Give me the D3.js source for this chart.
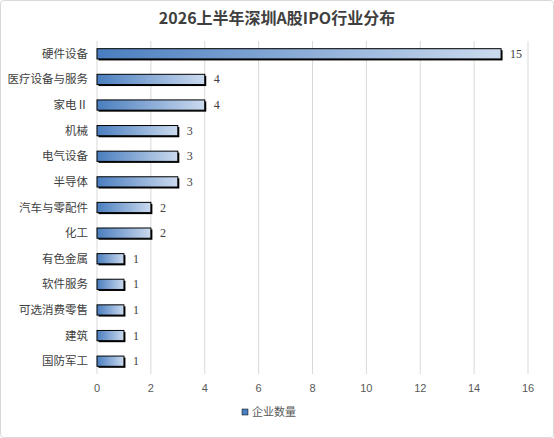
<!DOCTYPE html>
<html><head><meta charset="utf-8">
<script src="https://cdn.jsdelivr.net/npm/d3@7"></script>
<style>body{margin:0;background:#fff}</style>
</head><body>
<svg id="c" width="554" height="438"></svg>
<script>
const industries = ["硬件设备","医疗设备与服务","家电Ⅱ","机械","电气设备","半导体","汽车与零配件","化工","有色金属","软件服务","可选消费零售","建筑","国防军工"];
const counts = [15,4,4,3,3,3,2,2,1,1,1,1,1];
const ticks = [0,2,4,6,8,10,12,14,16];

const svg = d3.select("#c");
const W = 554, H = 438;
svg.append("rect").attr("x",0.5).attr("y",0.5).attr("width",W-1).attr("height",H-1)
  .attr("rx",3).attr("fill","#fff").attr("stroke","#d9d9d9");

const x = d3.scaleLinear().domain([0,16]).range([97,528]);
const y = d3.scaleBand().domain(industries).range([41,374]).paddingInner(0.6).paddingOuter(0.3);

const defs = svg.append("defs");
const g = defs.append("linearGradient").attr("id","bg");
g.append("stop").attr("offset","0%").attr("stop-color","#4a7ebf");
g.append("stop").attr("offset","100%").attr("stop-color","#cbdaee");

svg.append("g").selectAll("line").data(ticks).join("line")
  .attr("x1",d=>x(d)).attr("x2",d=>x(d)).attr("y1",41).attr("y2",374)
  .attr("stroke","#d9d9d9");

svg.append("text").attr("x",W/2).attr("y",24).attr("text-anchor","middle")
  .attr("font-family","Noto Sans CJK SC").attr("font-weight","bold").attr("font-size",16)
  .attr("fill","#404040").text("2026上半年深圳A股IPO行业分布");

const bars = svg.append("g");
bars.selectAll(".sh").data(counts).join("rect")
  .attr("x",x(0)+1.5).attr("y",(d,i)=>y(industries[i])+1.5)
  .attr("width",d=>x(d)-x(0)).attr("height",y.bandwidth()).attr("fill","#000");
bars.selectAll(".b").data(counts).join("rect")
  .attr("x",x(0)).attr("y",(d,i)=>y(industries[i]))
  .attr("width",d=>x(d)-x(0)).attr("height",y.bandwidth())
  .attr("fill","url(#bg)").attr("stroke","#000").attr("stroke-width",1);

bars.selectAll("text").data(counts).join("text")
  .attr("x",d=>x(d)+9).attr("y",(d,i)=>y(industries[i])+y.bandwidth()/2+4)
  .attr("font-family","Liberation Serif").attr("font-size",12).attr("fill","#404040")
  .text(d=>d);

svg.append("g").selectAll("text").data(industries).join("text")
  .attr("x",88).attr("y",d=>y(d)+y.bandwidth()/2+4).attr("text-anchor","end")
  .attr("font-family","Noto Sans CJK SC").attr("font-size",11.5).attr("fill","#404040")
  .text(d=>d);

svg.append("g").selectAll("text").data(ticks).join("text")
  .attr("x",d=>x(d)).attr("y",392).attr("text-anchor","middle")
  .attr("font-family","Liberation Sans").attr("font-size",11).attr("fill","#595959")
  .text(d=>d);

svg.append("rect").attr("x",242).attr("y",409).attr("width",6).attr("height",6)
  .attr("fill","#4a7ebf").attr("stroke","#000").attr("stroke-width",0.5);
svg.append("text").attr("x",252).attr("y",416).attr("font-family","Noto Sans CJK SC")
  .attr("font-size",11).attr("fill","#595959").text("企业数量");
</script>
</body></html>
